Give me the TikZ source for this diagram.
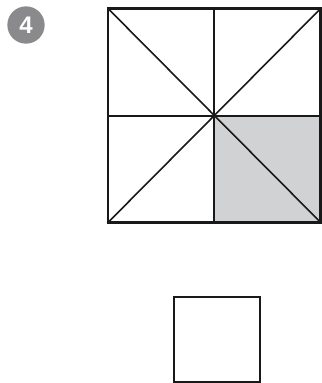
\documentclass[tikz,border=0pt]{standalone}
\usepackage{fontspec}
\setsansfont{Liberation Sans}
\begin{document}
\begin{tikzpicture}[x=0.75pt,y=-0.75pt,
  outer/.style={draw=black!90,line width=1.9pt},
  midline/.style={draw=black!90,line width=1.5pt},
  diag/.style={draw=black!90,line width=1.2pt},
  badge/.style={circle,fill=badgegray,text=white,minimum size=28pt,inner sep=0pt,font=\sffamily\bfseries\fontsize{18}{18}\selectfont}]
\definecolor{badgegray}{HTML}{8A8A8C}
\definecolor{quadgray}{HTML}{D1D2D4}
\useasboundingbox (0,0) rectangle (322,383);
\node[badge] (num) at (26,25) {4};
\coordinate (tl) at (108,8.5);
\coordinate (tr) at (320.7,8.5);
\coordinate (bl) at (108,222.5);
\coordinate (br) at (320.7,222.5);
\coordinate (c) at (214.35,115.5);
\coordinate (tm) at (214.35,8.5);
\coordinate (bm) at (214.35,222.5);
\coordinate (lm) at (108,115.5);
\coordinate (rm) at (320.7,115.5);
\fill[quadgray] (c) rectangle (br);
\draw[midline] (tm) -- (bm);
\draw[midline] (lm) -- (rm);
\draw[diag] (tl) -- (br);
\draw[diag] (tr) -- (bl);
\draw[outer] (tl) rectangle (br);
\coordinate (s1) at (173.8,297);
\coordinate (s2) at (259.8,382);
\draw[outer] (s1) rectangle (s2);
\end{tikzpicture}
\end{document}
